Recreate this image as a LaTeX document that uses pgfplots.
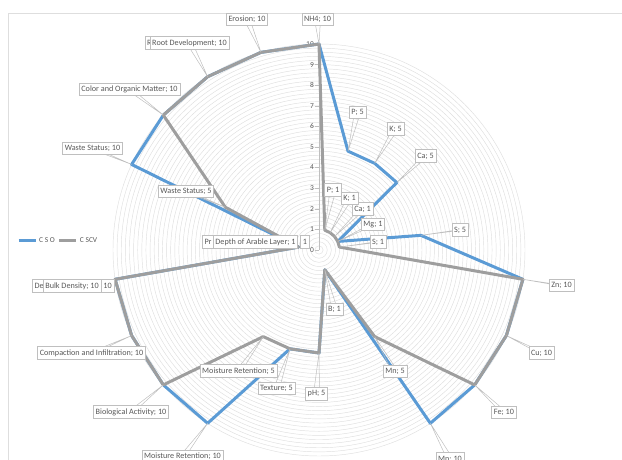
\documentclass[border=0pt]{standalone}
\usepackage{fontspec}
\setmainfont{Carlito}
\usepackage{pgfplots}
\pgfplotsset{compat=1.18}
\usepgfplotslibrary{polar}
\usetikzlibrary{calc}
\definecolor{cso}{RGB}{91,155,213}
\definecolor{cscv}{RGB}{158,158,158}
\definecolor{gridc}{RGB}{222,222,222}
\definecolor{boxc}{RGB}{191,191,191}
\definecolor{txtc}{RGB}{89,89,89}
\tikzset{
  lb/.style={draw=boxc, fill=white, line width=0.6bp, inner xsep=2.2bp, inner ysep=1.5bp,
    font=\fontsize{8.2}{9}\selectfont, text=txtc, minimum height=12.5bp},
  leader/.style={draw=boxc, line width=0.5bp}
}
\newcommand\lbl[4]{%
  \draw[leader] ($(#1,#2)+(-3,0)$) -- (#4) ($(#1,#2)+(3,0)$) -- (#4);
  \node[lb] at (#1,#2) {#3};}
\begin{document}
\begin{tikzpicture}
\useasboundingbox (0,0) rectangle (622bp,460bp);
\clip (0,0) rectangle (622bp,460bp);
\begin{polaraxis}[
  at={(319bp,210bp)}, anchor=origin,
  width=412bp, height=412bp, scale only axis,
  ymin=0, ymax=10, xmin=0, xmax=360,
  xtick=\empty,
  ytick={0,1,...,10}, minor y tick num=4,
  yticklabels={},
  major tick length=0pt, minor tick length=0pt,
  ymajorgrids=true, yminorgrids=true,
  major grid style={draw=gridc, line width=0.45bp},
  minor grid style={draw=gridc, line width=0.45bp},
  axis line style={draw=none},
  clip=false,
  legend style={at={(-0.133,0.522)}, anchor=center, draw=none, fill=none,
    font=\fontsize{7.5}{8}\selectfont, text=txtc, legend columns=2,
    /tikz/every even column/.append style={column sep=1bp},
    inner sep=0pt},
]
% radial value axis
\draw[draw=boxc, line width=0.6bp] (axis cs:90,0) -- (axis cs:90,10);
\pgfplotsinvokeforeach{0,...,10}{
  \draw[draw=boxc, line width=0.5bp] (axis cs:90,#1) -- ++(-3.5bp,0);
  \node[anchor=east, font=\fontsize{7.5}{8}\selectfont, text=txtc, inner sep=0pt] at ([xshift=-5bp]axis cs:90,#1) {#1};
}
\addplot[cso, line width=3bp, line join=round] coordinates {
 (90,10) (73.636,5) (57.273,5) (40.909,5) (24.545,1) (8.182,5)
 (351.818,10) (335.455,10) (319.091,10) (302.727,10) (286.364,1) (270,5)
 (253.636,5) (237.273,10) (220.909,10) (204.545,10) (188.182,10) (171.818,1)
 (155.455,10) (139.091,10) (122.727,10) (106.364,10)} -- cycle;
\addlegendentry{C S O}
\addplot[cscv, line width=3bp, line join=round] coordinates {
 (90,10) (73.636,1) (57.273,1) (40.909,1) (24.545,1) (8.182,1)
 (351.818,10) (335.455,10) (319.091,10) (302.727,5) (286.364,1) (270,5)
 (253.636,5) (237.273,5) (220.909,10) (204.545,10) (188.182,10) (171.818,1)
 (155.455,5) (139.091,10) (122.727,10) (106.364,10)} -- cycle;
\addlegendentry{C SCV}
% anchor points for data labels
\coordinate (pNH) at (axis cs:90,10);
\coordinate (pEr) at (axis cs:106.364,10);
\coordinate (pRD) at (axis cs:122.727,10);
\coordinate (pCOM) at (axis cs:139.091,10);
\coordinate (pWSa) at (axis cs:155.455,10);
\coordinate (pWSb) at (axis cs:155.455,5);
\coordinate (pDAL) at (axis cs:171.818,1);
\coordinate (pBD) at (axis cs:188.182,10);
\coordinate (pCI) at (axis cs:204.545,10);
\coordinate (pBA) at (axis cs:220.909,10);
\coordinate (pMRa) at (axis cs:237.273,10);
\coordinate (pMRb) at (axis cs:237.273,5);
\coordinate (pTx) at (axis cs:253.636,5);
\coordinate (ppH) at (axis cs:270,5);
\coordinate (pB) at (axis cs:286.364,1);
\coordinate (pMnb) at (axis cs:302.727,5);
\coordinate (pMna) at (axis cs:302.727,10);
\coordinate (pFe) at (axis cs:319.091,10);
\coordinate (pCu) at (axis cs:335.455,10);
\coordinate (pZn) at (axis cs:351.818,10);
\coordinate (pSa) at (axis cs:8.182,5);
\coordinate (pSb) at (axis cs:8.182,1);
\coordinate (pMg) at (axis cs:24.545,1);
\coordinate (pCaa) at (axis cs:40.909,5);
\coordinate (pCab) at (axis cs:40.909,1);
\coordinate (pKa) at (axis cs:57.273,5);
\coordinate (pKb) at (axis cs:57.273,1);
\coordinate (pPa) at (axis cs:73.636,5);
\coordinate (pPb) at (axis cs:73.636,1);
\end{polaraxis}
\begin{scope}[yshift=460bp, x=1bp, y=-1bp]
\draw[draw=gridc, line width=0.8bp] (8,470) -- (8,13) -- (630,13);
\lbl{317.5}{19.5}{NH4; 10}{pNH}
\lbl{247}{19.5}{Erosion; 10}{pEr}
\node[lb] at (184.5,43) {Root Development; 10};
\lbl{189.5}{43}{Root Development; 10}{pRD}
\lbl{129.5}{89.5}{Color and Organic Matter; 10}{pCOM}
\lbl{92.5}{148.5}{Waste Status; 10}{pWSa}
\lbl{186}{191.5}{Waste Status; 5}{pWSb}
\node[lb, anchor=west] at (202,242) {Pr\hspace{30bp}};
\draw[leader] (255,247) -- (pDAL);
\node[lb] at (255.5,242) {Depth of Arable Layer; 1};
\node[lb] at (305,242) {1};
\node[lb, anchor=west] at (32,286) {De\hspace{30bp}};
\draw[leader] (100,280) -- (pBD);
\node[lb] at (72,286) {Bulk Density; 10};
\node[lb] at (107.5,286) {10};
\lbl{91.5}{353}{Compaction and Infiltration; 10}{pCI}
\lbl{131}{412}{Biological Activity; 10}{pBA}
\lbl{182.5}{456.5}{Moisture Retention; 10}{pMRa}
\lbl{238.5}{371}{Moisture Retention; 5}{pMRb}
\lbl{276.5}{388.5}{Texture; 5}{pTx}
\lbl{316.5}{394}{pH; 5}{ppH}
\lbl{334.5}{309.5}{B; 1}{pB}
\lbl{395}{371.5}{Mn; 5}{pMnb}
\lbl{450}{459}{Mn; 10}{pMna}
\lbl{504}{412.5}{Fe; 10}{pFe}
\lbl{541.5}{353}{Cu; 10}{pCu}
\lbl{561.5}{285.5}{Zn; 10}{pZn}
\lbl{460}{230}{S; 5}{pSa}
\lbl{378}{242}{S; 1}{pSb}
\lbl{373}{224.5}{Mg; 1}{pMg}
\lbl{362.5}{209}{Ca; 1}{pCab}
\lbl{349.5}{198.5}{K; 1}{pKb}
\lbl{333}{190}{P; 1}{pPb}
\lbl{425.5}{156}{Ca; 5}{pCaa}
\lbl{395.5}{129}{K; 5}{pKa}
\lbl{357.5}{112.5}{P; 5}{pPa}
\end{scope}
\end{tikzpicture}
\end{document}
